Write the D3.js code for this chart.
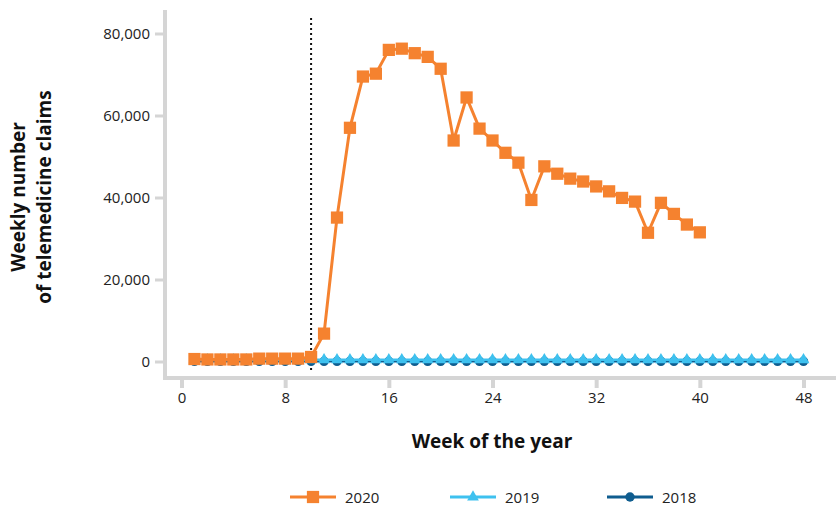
<!DOCTYPE html>
<html><head><meta charset="utf-8">
<script src="https://cdn.jsdelivr.net/npm/d3@7"></script>
<style>body{margin:0;background:#fff}svg{display:block}</style>
</head><body>
<svg id="c" width="836" height="509"></svg>
<script>
const weeks2020 = d3.range(1, 41);
const values2020 = [600,500,500,500,500,700,700,700,700,1100,
  6800,35100,57000,69500,70200,76000,76300,75200,74300,71400,
  53900,64400,56800,53900,50900,48500,39400,47600,45800,44600,
  43900,42700,41500,39900,39000,31400,38700,36000,33400,31500];
const weeks2019 = d3.range(1, 49);
const values2019 = weeks2019.map(() => 400);
const weeks2018 = d3.range(1, 49);
const values2018 = weeks2018.map(() => 50);
const xTicks = [0, 8, 16, 24, 32, 40, 48];
const yTicks = [0, 20000, 40000, 60000, 80000];
const markerWeek = 10;

const svg = d3.select("#c");
const x = d3.scaleLinear().domain([0, 48]).range([181.5, 803.5]);
const y = d3.scaleLinear().domain([0, 80000]).range([361.5, 33.5]);
const axisColor = "#d5d5d5";
const font = "'Open Sans', Roboto, sans-serif";

svg.append("line").attr("x1", 165).attr("x2", 165).attr("y1", 10).attr("y2", 380)
  .attr("stroke", axisColor).attr("stroke-width", 4);
svg.append("line").attr("x1", 163).attr("x2", 836).attr("y1", 378).attr("y2", 378)
  .attr("stroke", axisColor).attr("stroke-width", 4);

const yAxis = d3.axisLeft(y).tickValues(yTicks).tickFormat(d3.format(",")).tickSize(9).tickPadding(5);
const gy = svg.append("g").attr("transform", "translate(164,0)").call(yAxis);
gy.select(".domain").remove();
gy.selectAll(".tick line").attr("stroke", axisColor).attr("stroke-width", 3);
gy.selectAll(".tick text").attr("fill", "#222").style("font-family", font).style("font-size", "15px");

const xAxis = d3.axisBottom(x).tickValues(xTicks).tickSize(9).tickPadding(4);
const gx = svg.append("g").attr("transform", "translate(0,379)").call(xAxis);
gx.select(".domain").remove();
gx.selectAll(".tick line").attr("stroke", axisColor).attr("stroke-width", 4);
gx.selectAll(".tick text").attr("fill", "#222").style("font-family", font).style("font-size", "15px");

svg.append("text").attr("x", 492).attr("y", 448).attr("text-anchor", "middle")
  .style("font-family", font).style("font-size", "19px").style("font-weight", "bold").attr("fill", "#111")
  .text("Week of the year");
const yt = svg.append("text").attr("transform", "translate(0,197) rotate(-90)").attr("text-anchor", "middle")
  .style("font-family", font).style("font-size", "19px").style("font-weight", "bold").attr("fill", "#111");
yt.append("tspan").attr("x", 0).attr("y", 25).text("Weekly number");
yt.append("tspan").attr("x", 0).attr("y", 51).text("of telemedicine claims");

svg.append("line").attr("x1", x(markerWeek)).attr("x2", x(markerWeek)).attr("y1", 18).attr("y2", 372)
  .attr("stroke", "#111").attr("stroke-width", 2).attr("stroke-dasharray", "2,3");

const c2020 = "#f5822f", c2019 = "#3ec1ef", c2018 = "#0f5d8f";
const line = d3.line().x(d => x(d[0])).y(d => y(d[1]));

function series(weeks, vals, color, sym, size, lw) {
  const data = weeks.map((w, i) => [w, vals[i]]);
  const g = svg.append("g");
  g.append("path").datum(data).attr("d", line).attr("fill", "none").attr("stroke", color).attr("stroke-width", lw);
  g.selectAll("path.m").data(data).join("path").attr("class", "m")
    .attr("transform", d => `translate(${x(d[0])},${y(d[1])})`)
    .attr("d", d3.symbol().type(sym).size(size)).attr("fill", color);
}
series(weeks2018, values2018, c2018, d3.symbolCircle, 70, 2.5);
series(weeks2019, values2019, c2019, d3.symbolTriangle, 60, 2.5);
series(weeks2020, values2020, c2020, d3.symbolSquare, 150, 3);

const legend = [["2020", c2020, d3.symbolSquare, 150], ["2019", c2019, d3.symbolTriangle, 60], ["2018", c2018, d3.symbolCircle, 70]];
const lx = [290, 450, 607];
legend.forEach((l, i) => {
  const g = svg.append("g").attr("transform", `translate(${lx[i]},497)`);
  g.append("line").attr("x1", 0).attr("x2", 46).attr("stroke", l[1]).attr("stroke-width", 3);
  g.append("path").attr("transform", "translate(23,0)").attr("d", d3.symbol().type(l[2]).size(l[3])).attr("fill", l[1]);
  g.append("text").attr("x", 55).attr("y", 6).style("font-family", font).style("font-size", "15px").attr("fill", "#222").text(l[0]);
});
</script>
</body></html>
